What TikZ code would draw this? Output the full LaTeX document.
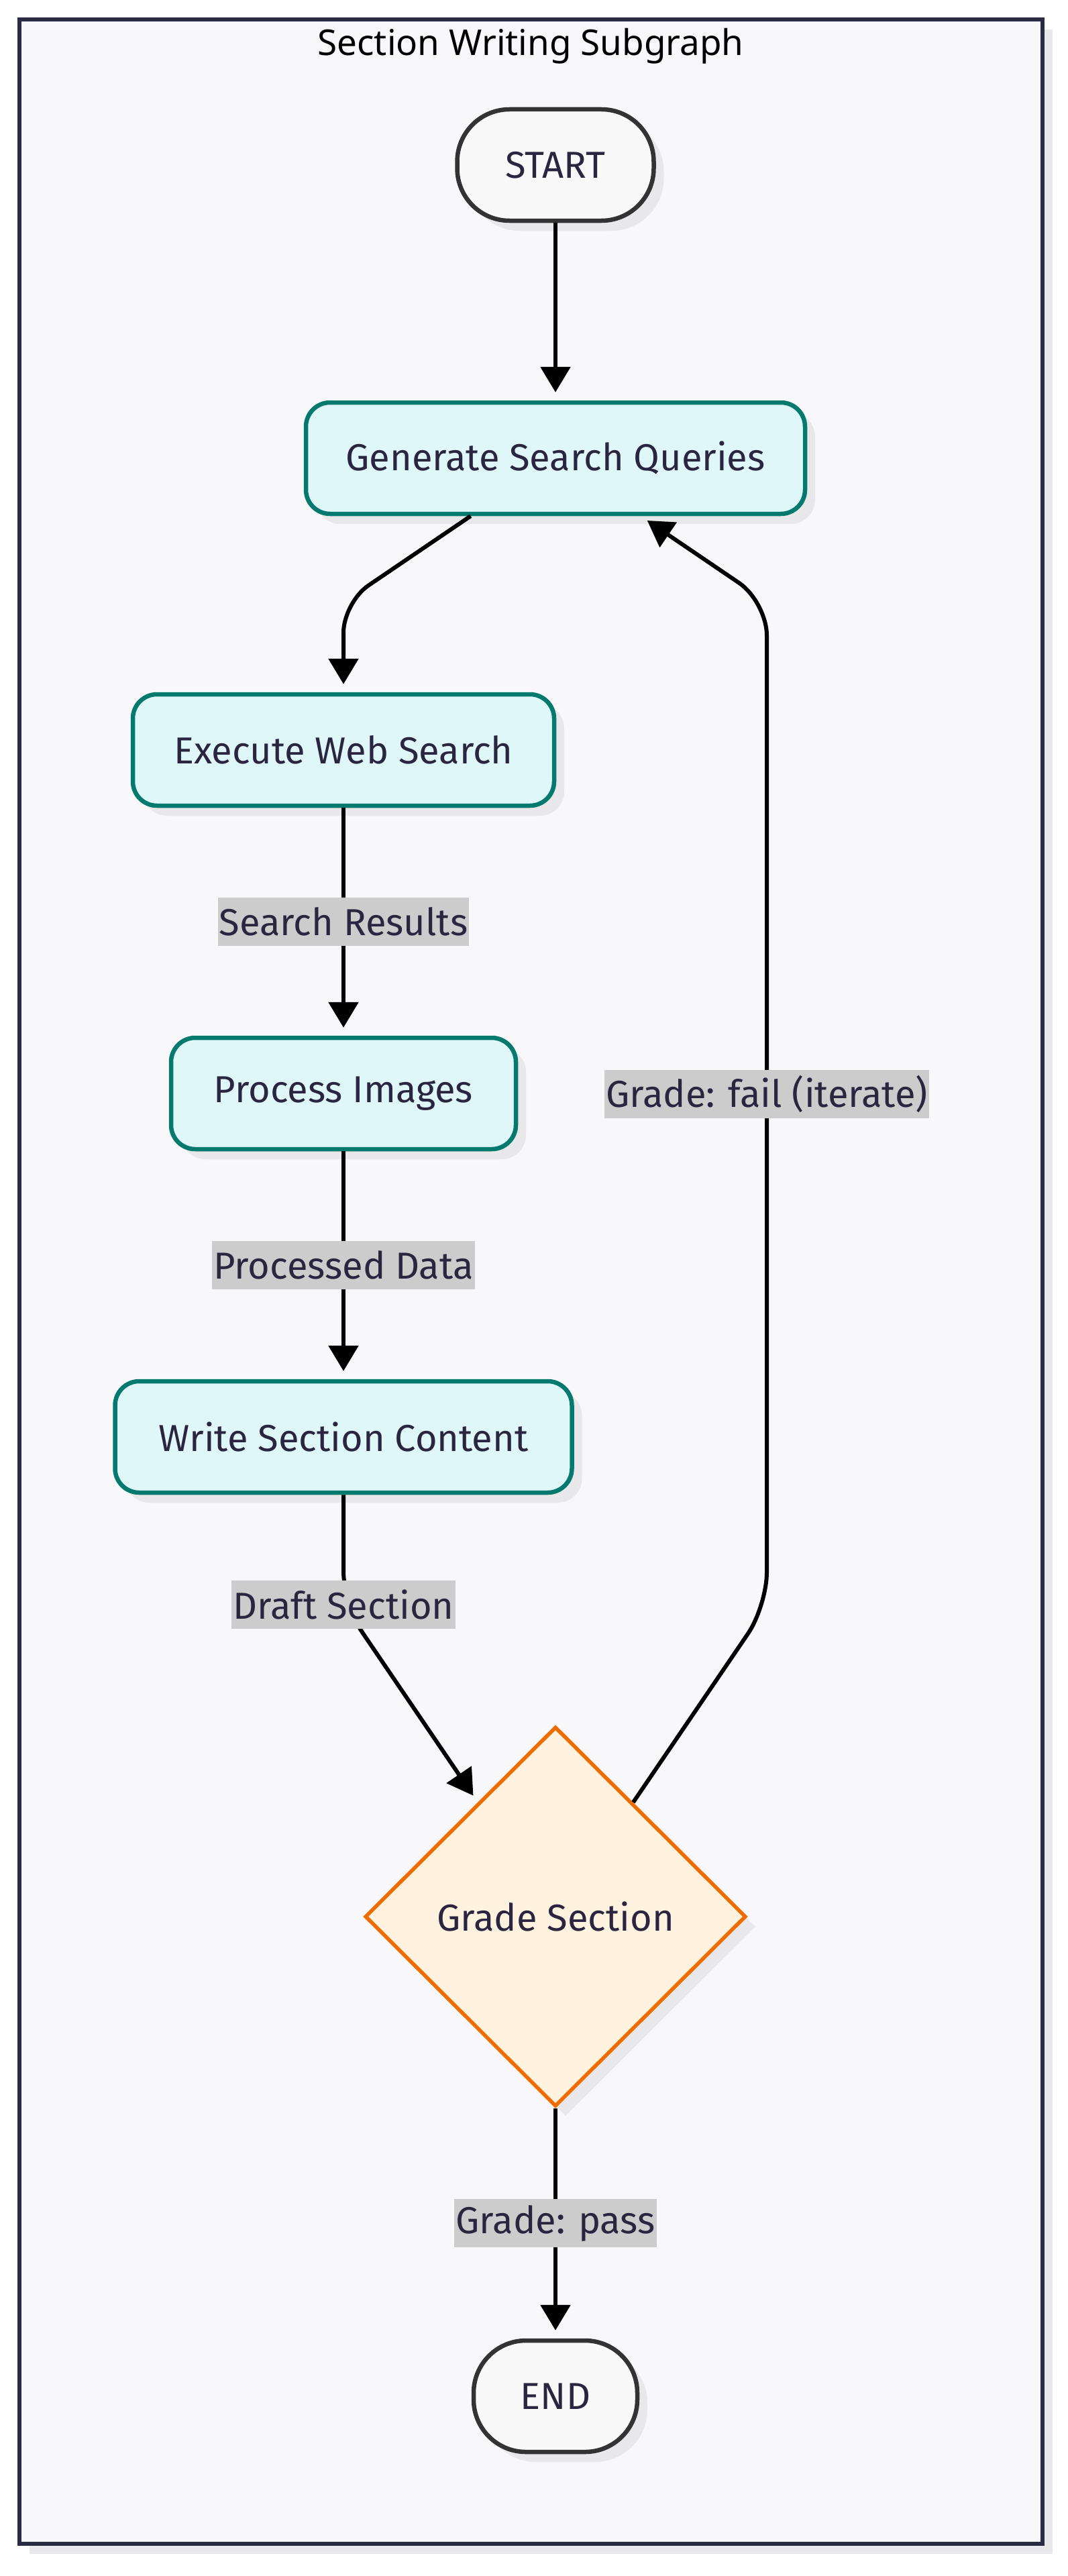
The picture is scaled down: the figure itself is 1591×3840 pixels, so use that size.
\documentclass[tikz,border=0pt]{standalone}
\usepackage{fontspec}
\setmainfont{Fira Sans}
\newfontfamily\titlefont{Noto Sans}
\usetikzlibrary{shapes.geometric,arrows.meta,shadows}
\definecolor{textc}{HTML}{2A2640}
\definecolor{framec}{HTML}{2B2B45}
\definecolor{framefill}{HTML}{F8F8FA}
\definecolor{shadowc}{HTML}{E8E8EB}
\definecolor{tealc}{HTML}{047A6E}
\definecolor{tealfill}{HTML}{E0F7FA}
\definecolor{orangec}{HTML}{EF6C00}
\definecolor{orangefill}{HTML}{FFF3E0}
\definecolor{termc}{HTML}{333333}
\definecolor{termfill}{HTML}{F9F9F9}
\definecolor{lblc}{HTML}{CCCCCC}
\begin{document}
\begin{tikzpicture}[x=1pt,y=-1pt,
  txt/.style={text=textc,font=\fontsize{56pt}{67pt}\selectfont},
  shad/.style={drop shadow={shadow xshift=15pt,shadow yshift=-15pt,fill=shadowc,opacity=1}},
  procbox/.style={txt,shad,draw=tealc,fill=tealfill,line width=6.5pt,rectangle,rounded corners=36pt,minimum height=166pt,inner sep=0pt},
  termbox/.style={txt,shad,draw=termc,fill=termfill,line width=6.5pt,rectangle,rounded corners=78pt,minimum height=166pt,inner sep=0pt},
  decbox/.style={txt,shad,draw=orangec,fill=orangefill,line width=5.5pt,diamond,aspect=1,minimum width=568pt,minimum height=566pt,inner sep=0pt},
  arr/.style={draw=black,line width=6pt,-{Triangle[width=44pt,length=38pt]},shorten >=12pt},
  lbl/.style={txt,sharp corners,fill=lblc,inner xsep=2pt,inner ysep=0pt,minimum height=72pt}
]
\useasboundingbox (0,0) rectangle (1591,3840);
\fill[white] (0,0) rectangle (1591,3840);
\fill[shadowc] (44,44) rectangle (1569,3807);
\draw[framec,line width=6pt,fill=framefill] (29,29) rectangle (1554,3792);
\node[text=black,font=\titlefont\fontsize{53pt}{63pt}\selectfont,anchor=base] (title) at (791,83) {Section Writing Subgraph};

\node[termbox,minimum width=293pt] (startn) at (828,246) {START};
\node[procbox,minimum width=744pt] (gen) at (828,683) {Generate Search Queries};
\node[procbox,minimum width=628pt] (exec) at (512,1118) {Execute Web Search};
\node[procbox,minimum width=514pt] (proc) at (512,1630) {Process Images};
\node[procbox,minimum width=681pt] (write) at (512,2142) {Write Section Content};
\node[decbox] (grade) at (828,2857) {Grade Section};
\node[termbox,minimum width=244pt] (endn) at (828,3572) {END};

\coordinate (c1) at (512,898);
\coordinate (c2) at (512,2392);
\coordinate (c3) at (1143,2394);
\coordinate (c4) at (1143,897);

\draw[arr] (startn) -- (gen);
\draw[arr,rounded corners=45pt] (gen) -- (c1) -- (exec);
\draw[arr] (exec) -- node[lbl] (l1) {Search Results} (proc);
\draw[arr] (proc) -- node[lbl] (l2) {Processed Data} (write);
\draw[arr,rounded corners=50pt] (write) -- (c2) -- (grade);
\node[lbl] (l3) at (c2) {Draft Section};
\draw[arr,rounded corners=50pt] (grade) -- (c3) -- node[lbl,pos=0.51] (l4) {Grade: fail (iterate)} (c4) -- (gen);
\draw[arr] (grade) -- node[lbl] (l5) {Grade: pass} (endn);
\end{tikzpicture}
\end{document}
